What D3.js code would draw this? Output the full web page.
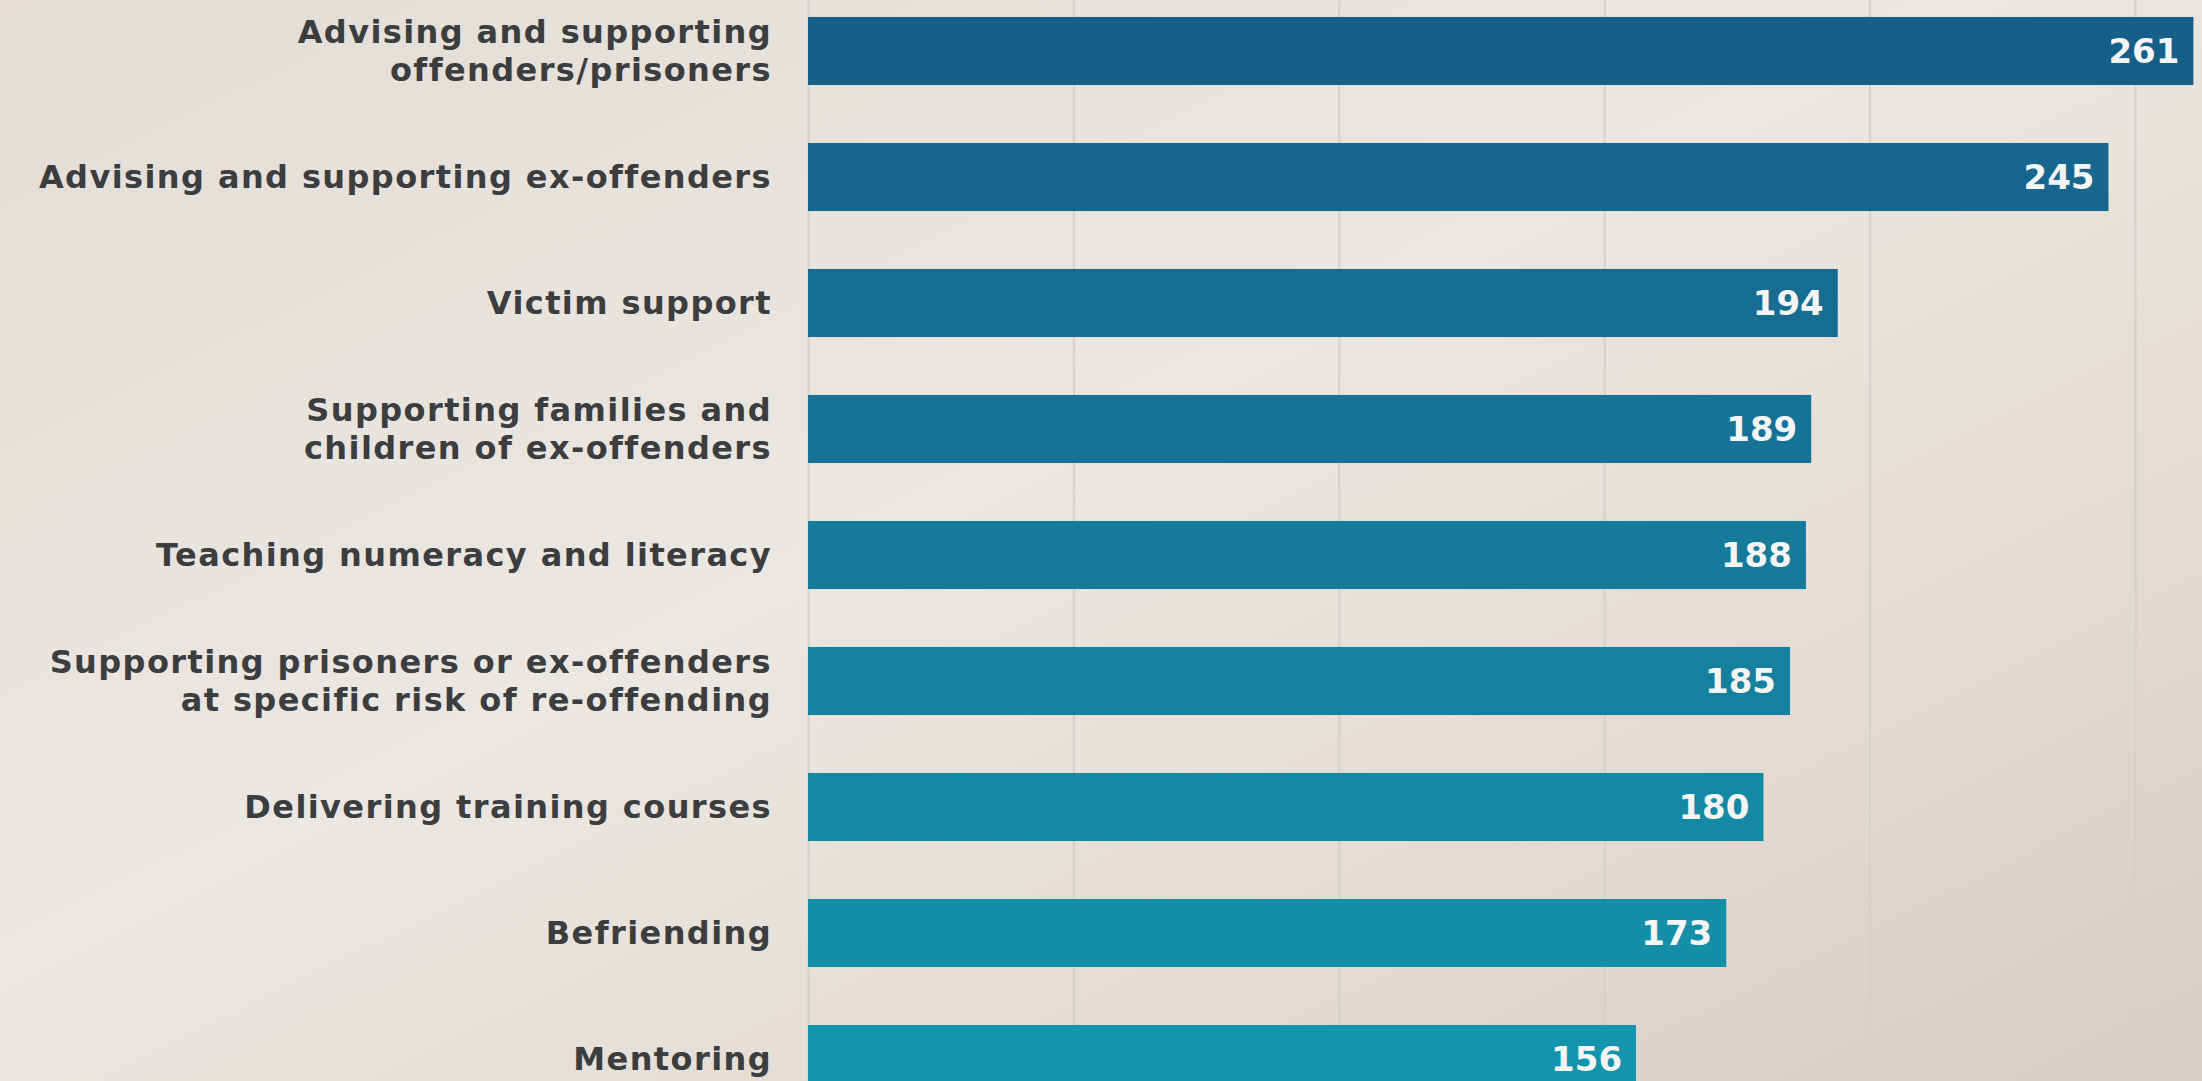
<!DOCTYPE html>
<html>
<head>
<meta charset="utf-8">
<script src="https://cdn.jsdelivr.net/npm/d3@7"></script>
<style>
  html, body { margin: 0; padding: 0; overflow: hidden; }
  body { width: 2202px; height: 1081px; }
</style>
</head>
<body>
<script>
const WIDTH  = 2202;
const HEIGHT = 1081;

// data
const categories = [
  ["Advising and supporting", "offenders/prisoners"],
  ["Advising and supporting ex-offenders"],
  ["Victim support"],
  ["Supporting families and", "children of ex-offenders"],
  ["Teaching numeracy and literacy"],
  ["Supporting prisoners or ex-offenders", "at specific risk of re-offending"],
  ["Delivering training courses"],
  ["Befriending"],
  ["Mentoring"]
];
const values = [261, 245, 194, 189, 188, 185, 180, 173, 156];
const gridTicks = [0, 50, 100, 150, 200, 250];

let svg = d3.select('body').append('svg')
    .attr('width', WIDTH)
    .attr('height', HEIGHT);

// background like the photographed screen
let defs = svg.append('defs');
let bg = defs.append('linearGradient')
    .attr('id', 'bg')
    .attr('x1', '0').attr('y1', '0')
    .attr('x2', '1').attr('y2', '1');
bg.append('stop').attr('offset', '0%').attr('stop-color', '#e3ddd6');
bg.append('stop').attr('offset', '45%').attr('stop-color', '#ebe7e2');
bg.append('stop').attr('offset', '75%').attr('stop-color', '#e2dbd3');
bg.append('stop').attr('offset', '100%').attr('stop-color', '#d6cdc4');

svg.append('rect')
    .attr('width', WIDTH)
    .attr('height', HEIGHT)
    .attr('fill', 'url(#bg)');

const idx = d3.range(values.length);

let x = d3.scaleLinear()
    .domain([0, 250])
    .range([808, 2135]);

let y = d3.scaleBand()
    .domain(idx)
    .range([-12, 1122])
    .paddingInner(0.46)
    .paddingOuter(0.23);

// darker blue for the first bar, lighter teal towards the last
let color = d3.scaleLinear()
    .domain([0, values.length - 1])
    .range(['#165f88', '#1595ad']);

// faint vertical gridlines
let grid = svg.append('g')
    .call(d3.axisBottom(x).tickValues(gridTicks).tickSize(HEIGHT).tickFormat(''));
grid.select('.domain').remove();
grid.selectAll('line')
    .attr('stroke', '#d4d0cb')
    .attr('stroke-width', 2);

// bars
svg.selectAll('rect.bar')
    .data(idx)
    .enter().append('rect')
    .attr('class', 'bar')
    .attr('x', x(0))
    .attr('y', i => y(i))
    .attr('width', i => x(values[i]) - x(0))
    .attr('height', y.bandwidth())
    .attr('fill', i => color(i));

// value labels inside bars
svg.selectAll('text.val')
    .data(idx)
    .enter().append('text')
    .attr('class', 'val')
    .attr('x', i => x(values[i]) - 14)
    .attr('y', i => y(i) + y.bandwidth() / 2)
    .attr('dy', '0.36em')
    .attr('text-anchor', 'end')
    .style('font-family', '"DejaVu Sans", sans-serif')
    .style('font-weight', 'bold')
    .style('font-size', '34px')
    .attr('fill', '#f4f6f6')
    .text(i => values[i]);

// category labels, one or two lines
const lineH = 38;
let labels = svg.selectAll('text.cat')
    .data(idx)
    .enter().append('text')
    .attr('class', 'cat')
    .attr('text-anchor', 'end')
    .style('font-family', '"DejaVu Sans", sans-serif')
    .style('font-weight', 'bold')
    .style('font-size', '32px')
    .style('letter-spacing', '1.4px')
    .attr('fill', '#3b3d3f');

labels.each(function (i) {
    let lines = categories[i];
    let cy = y(i) + y.bandwidth() / 2;
    let top = cy - (lines.length - 1) * lineH / 2;
    d3.select(this).selectAll('tspan')
        .data(lines)
        .enter().append('tspan')
        .attr('x', 772)
        .attr('y', (d, k) => top + k * lineH)
        .attr('dy', '0.35em')
        .text(d => d);
});
</script>
</body>
</html>
